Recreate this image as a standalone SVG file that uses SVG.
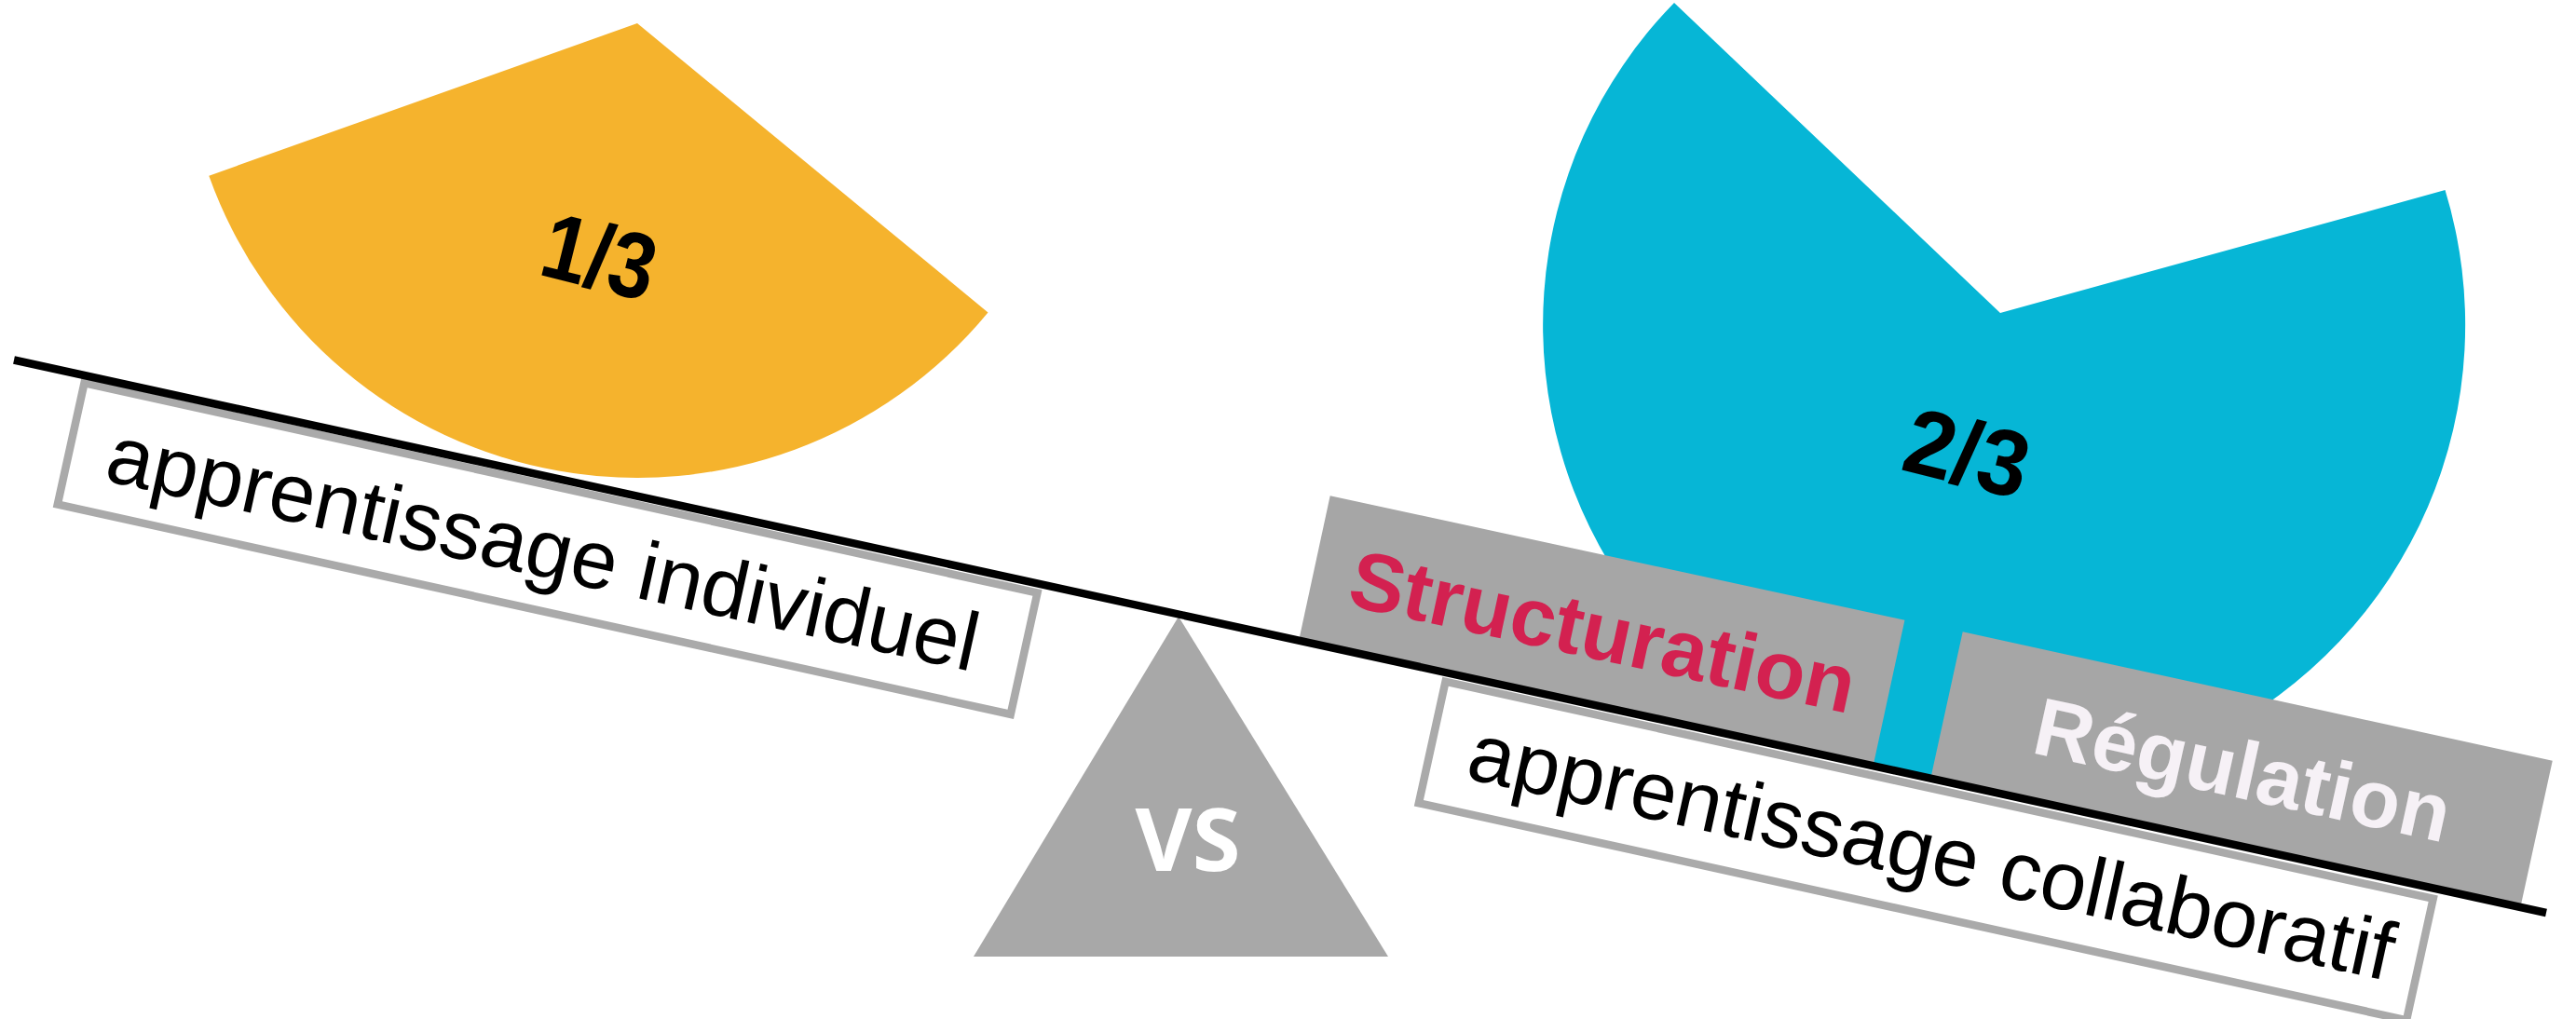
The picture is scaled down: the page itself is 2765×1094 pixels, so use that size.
<svg xmlns="http://www.w3.org/2000/svg" width="2765" height="1094" viewBox="0 0 2765 1094">
  <style>
    .label { font-family: "Liberation Sans", Arial, sans-serif; font-size: 89px; fill: #000000; }
    .frame { fill: #ffffff; stroke: #aaaaaa; stroke-width: 8.5; }
    .tag { fill: #a6a6a6; }
    .tagtext { font-family: "Liberation Sans", Arial, sans-serif; font-size: 88px; font-weight: bold; }
    .frac { font-family: "Liberation Sans", Arial, sans-serif; font-size: 100px; font-weight: bold; fill: #000000; text-anchor: middle; }
  </style>
  <rect width="2765" height="1094" fill="#ffffff"/>

  <g id="pie-collaboratif">
    <path d="M2147,336 L2624.5,204.1 A495,495 0 1 1 1797,3 Z" fill="#06b6d6"/>
    <g transform="translate(2112,485) rotate(14)">
      <text class="frac" x="0" y="36" textLength="134" lengthAdjust="spacingAndGlyphs">2/3</text>
    </g>
  </g>

  <g id="pie-individuel">
    <path d="M684,25 L1060.5,335.4 A488,488 0 0 1 224.3,188.7 Z" fill="#f5b32d"/>
    <g transform="translate(644,274) rotate(14)">
      <text class="frac" x="0" y="36" textLength="122" lengthAdjust="spacingAndGlyphs">1/3</text>
    </g>
  </g>

  <g id="structuration" transform="translate(1427.7,532.3) rotate(12.2)">
    <rect class="tag" x="0" y="0" width="631" height="160"/>
    <text class="tagtext" x="41" y="111" fill="#d32150">Structuration</text>
  </g>

  <g id="regulation" transform="translate(2106.7,678.3) rotate(12.33)">
    <rect class="tag" x="0" y="0" width="648" height="160"/>
    <text class="tagtext" x="98" y="111" fill="#f6f1f6">Régulation</text>
  </g>

  <g id="label-individuel" transform="translate(87.3,406) rotate(12.43)">
    <rect class="frame" x="4.25" y="4.25" width="1047.5" height="133.5"/>
    <text class="label" x="46" y="102">apprentissage individuel</text>
  </g>

  <g id="label-collaboratif" transform="translate(1548.3,726.7) rotate(12.4)">
    <rect class="frame" x="4.25" y="4.25" width="1085.5" height="133.5"/>
    <text class="label" x="46" y="101">apprentissage collaboratif</text>
  </g>

  <g id="fulcrum">
    <polygon points="1265,662 1490,1027 1045,1027" fill="#a8a8a8"/>
    <text x="1275" y="935" font-family="'Open Sans', 'Liberation Sans', sans-serif" font-size="94" font-weight="bold" fill="#ffffff" text-anchor="middle">VS</text>
  </g>

  <g id="connectors">
    <line x1="15" y1="386.5" x2="2733" y2="980" stroke="#000000" stroke-width="8.5"/>
  </g>
</svg>
